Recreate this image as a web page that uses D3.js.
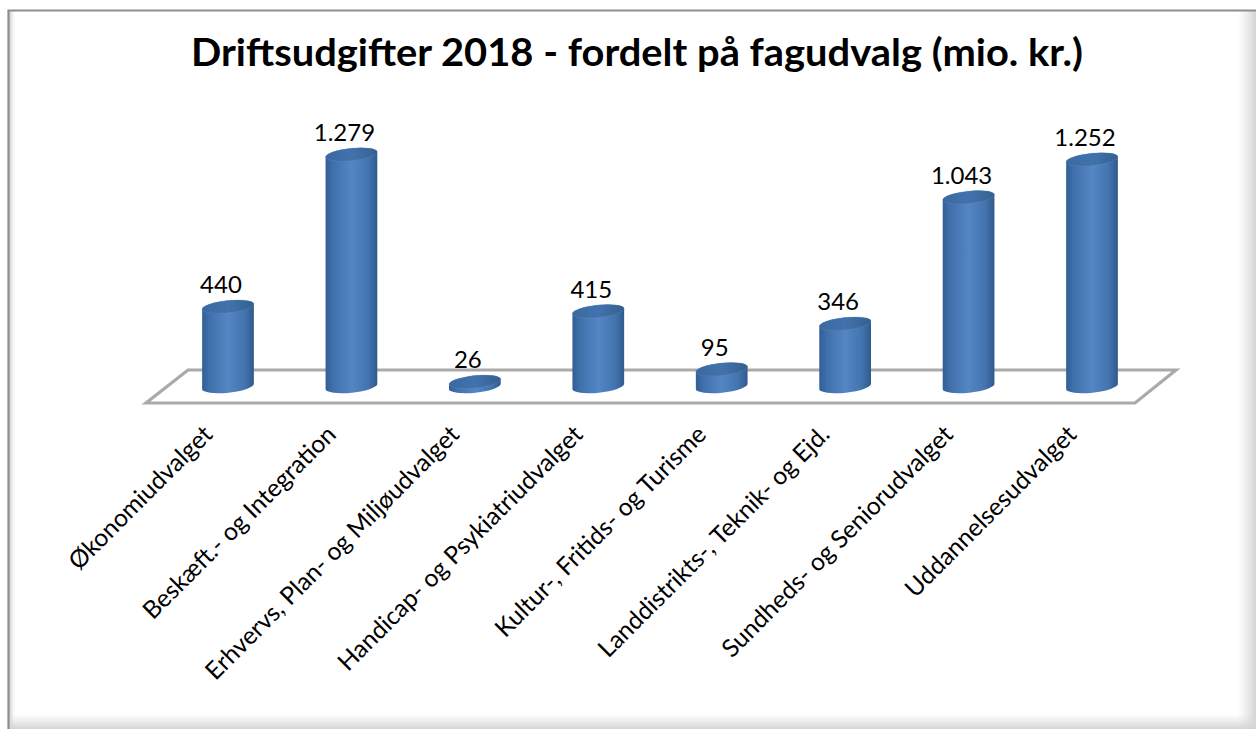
<!DOCTYPE html>
<html><head><meta charset="utf-8">
<script src="https://cdn.jsdelivr.net/npm/d3@7"></script>
<style>html,body{margin:0;padding:0;background:#fff}svg{display:block}text{font-family:Lato,"Open Sans",sans-serif;fill:#000}</style>
</head><body><svg id="c" width="1256" height="729"></svg>
<script>
const titleText = "Driftsudgifter 2018 - fordelt på fagudvalg (mio. kr.)";
const categories = ["Økonomiudvalget","Beskæft.- og Integration","Erhvervs, Plan- og Miljøudvalget","Handicap- og Psykiatriudvalget","Kultur-, Fritids- og Turisme","Landdistrikts-, Teknik- og Ejd.","Sundheds- og Seniorudvalget","Uddannelsesudvalget"];
const values = [440,1279,26,415,95,346,1043,1252];
const valueLabels = ["440","1.279","26","415","95","346","1.043","1.252"];

const svg = d3.select("#c");
const W = 1256, H = 729;
const defs = svg.append("defs");
function grad(id, x1,y1,x2,y2, stops){
  const g = defs.append("linearGradient").attr("id",id).attr("x1",x1).attr("y1",y1).attr("x2",x2).attr("y2",y2);
  stops.forEach(s=>g.append("stop").attr("offset",s[0]).attr("stop-color",s[1]).attr("stop-opacity",s[2]===undefined?1:s[2]));
}
grad("body",0,0,1,0,[[0,"#315e94"],[0.14,"#3f70aa"],[0.5,"#5386c4"],[0.82,"#4374af"],[1,"#2f5a8e"]]);
grad("cap",0,0,1,0,[[0,"#3a699f"],[0.5,"#4272ad"],[1,"#34618f"]]);
grad("bevR",0,0,1,0,[[0,"#ddd",0],[1,"#d4d4d4",1]]);
grad("bevB",0,0,0,1,[[0,"#ddd",0],[1,"#d4d4d4",1]]);
grad("bevL",0,0,1,0,[[0,"#cfcfcf",1],[1,"#ddd",0]]);
defs.append("filter").attr("id","soft").append("feGaussianBlur").attr("stdDeviation",0.7);

// frame and bevel
svg.append("rect").attr("x",0).attr("y",0).attr("width",W).attr("height",H).attr("fill","#fff");
svg.append("rect").attr("x",9).attr("y",11).attr("width",6).attr("height",H-11).attr("fill","url(#bevL)");
svg.append("rect").attr("x",W-18).attr("y",11).attr("width",18).attr("height",H-11).attr("fill","url(#bevR)");
svg.append("rect").attr("x",9).attr("y",H-15).attr("width",W-9).attr("height",15).attr("fill","url(#bevB)");
svg.append("path").attr("d",`M8.5 ${H} V10.5 H${W}`).attr("fill","none").attr("stroke","#8e8e8e").attr("stroke-width",2.2);

// title
svg.append("text").attr("x",637).attr("y",66).attr("text-anchor","middle")
  .attr("font-size",38).attr("font-weight",700).attr("textLength",892).attr("lengthAdjust","spacingAndGlyphs").text(titleText);

// scales
const x = d3.scalePoint().domain(categories).range([228,1092]);
const y = d3.scaleLinear().domain([0,1279]).range([386.5,154.5]);
const rx = 26, ry = 6.2, tilt = -6;
const c = Math.cos(tilt*Math.PI/180)*rx, s = Math.sin(tilt*Math.PI/180)*rx;

// floor
const floor = [[146,403],[1135,403],[1176,370],[188,370]];
svg.append("path").attr("d",d3.line()(floor)+"Z").attr("fill","#fff").attr("stroke","#aaaaaa").attr("stroke-width",3.2).attr("stroke-linejoin","miter");

// cylinders
const g = svg.selectAll("g.bar").data(values).join("g").attr("class","bar").attr("filter","url(#soft)");
g.append("path").attr("fill","url(#body)").attr("d",(d,i)=>{
  const cx = x(categories[i]), yb = y(0), yt = y(d);
  return `M${cx-c} ${yt-s} A${rx} ${ry} ${tilt} 0 1 ${cx+c} ${yt+s} L${cx+c} ${yb+s} A${rx} ${ry} ${tilt} 0 1 ${cx-c} ${yb-s} Z`;
});
g.append("ellipse").attr("rx",rx).attr("ry",ry).attr("fill","url(#cap)").attr("stroke","#6f97c8").attr("stroke-opacity",0.3).attr("stroke-width",0.8)
  .attr("transform",(d,i)=>`translate(${x(categories[i])},${y(d)}) rotate(${tilt})`);

// value labels
svg.selectAll("text.val").data(valueLabels).join("text").attr("class","val")
  .attr("x",(d,i)=>x(categories[i])-7).attr("y",(d,i)=>y(values[i])-13.5)
  .attr("text-anchor","middle").attr("font-size",24).text(d=>d);

// category labels
svg.selectAll("text.cat").data(categories).join("text").attr("class","cat")
  .attr("text-anchor","end").attr("font-size",24.6)
  .attr("transform",d=>`translate(${x(d)-14},${436}) rotate(-45)`).text(d=>d);
</script></body></html>
